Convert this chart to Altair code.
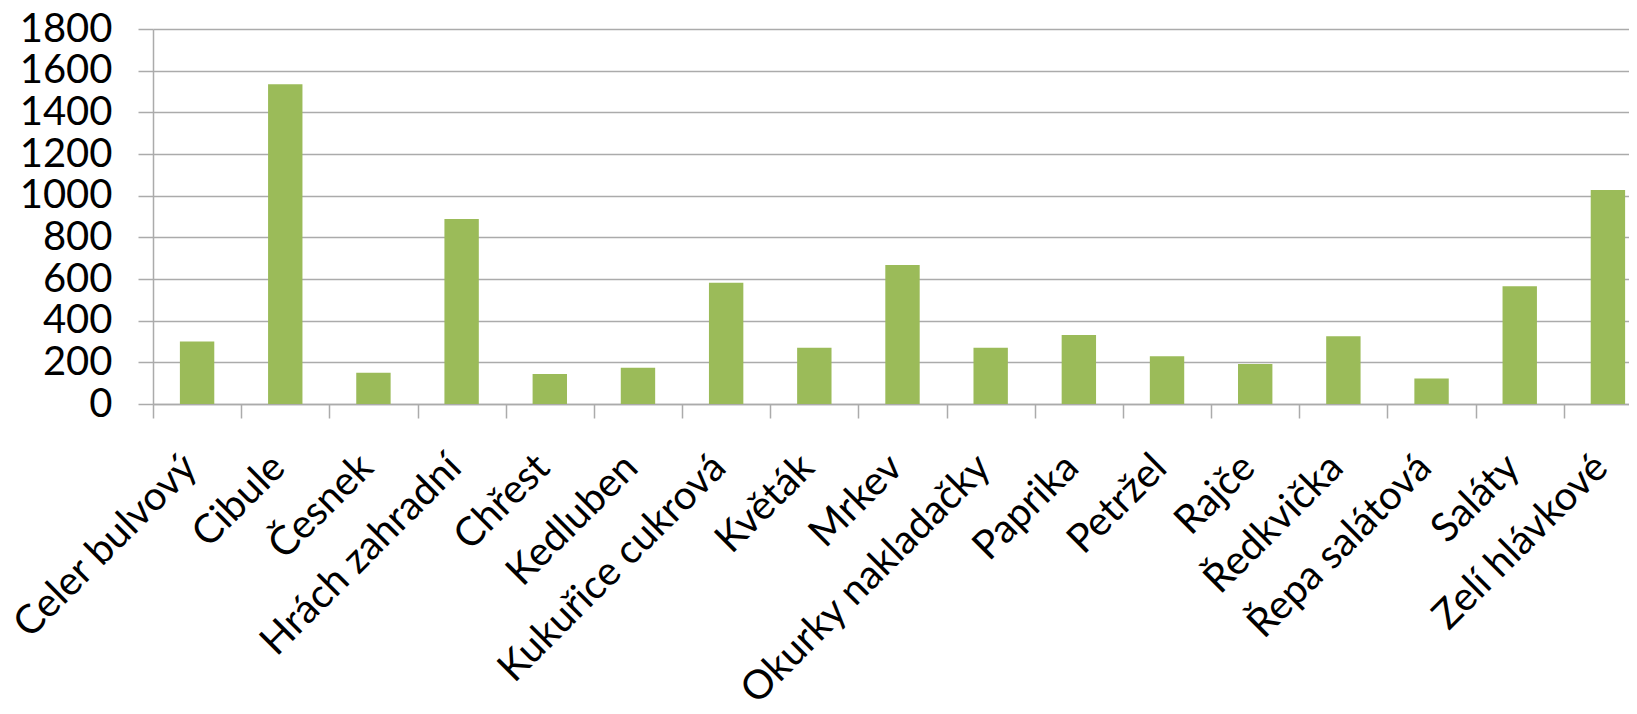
import altair as alt
import pandas as pd

categories = ["Celer bulvový", "Cibule", "Česnek", "Hrách zahradní", "Chřest", "Kedluben",
              "Kukuřice cukrová", "Květák", "Mrkev", "Okurky nakladačky", "Paprika", "Petržel",
              "Rajče", "Ředkvička", "Řepa salátová", "Saláty", "Zelí hlávkové"]
values = [300, 1535, 150, 888, 144, 174, 582, 270, 667, 270, 331, 229, 192, 325, 122, 565, 1027]
y_ticks = [0, 200, 400, 600, 800, 1000, 1200, 1400, 1600, 1800]

df = pd.DataFrame({"cat": categories, "val": values})

FONT = "Lato"
GRID = "#ABABAB"

chart = alt.Chart(df).mark_bar(color="#9BBB59", width=alt.RelativeBandSize(0.39)).encode(
    x=alt.X("cat:N", sort=categories, title=None,
            scale=alt.Scale(range=[0, 1499], paddingInner=0, paddingOuter=0),
            axis=alt.Axis(labelAngle=-45, labelAlign="right", labelBaseline="middle",
                          labelFont=FONT, labelFontSize=40, labelColor="#000000",
                          labelPadding=43, labelOffset=-7, labelLimit=600,
                          tickBand="extent", tickSize=14, tickColor=GRID, tickWidth=1.5,
                          domainColor=GRID, domainWidth=1.5, grid=False)),
    y=alt.Y("val:Q", title=None,
            scale=alt.Scale(domain=[0, 1800], nice=False),
            axis=alt.Axis(values=y_ticks, format="d", labelFont=FONT, labelFontSize=40,
                          labelColor="#000000",
                          labelPadding=26, tickSize=15, tickColor=GRID, tickWidth=1.5,
                          domainColor=GRID, domainWidth=1.5,
                          grid=True, gridColor=GRID, gridWidth=1.5)),
).properties(
    width=1476, height=375,
    autosize=alt.AutoSizeParams(type="none"),
    padding={"left": 145, "top": 21, "right": 0, "bottom": 300},
).configure_view(stroke=None)

chart.save("out.html", embed_options={"renderer": "svg", "actions": False})
